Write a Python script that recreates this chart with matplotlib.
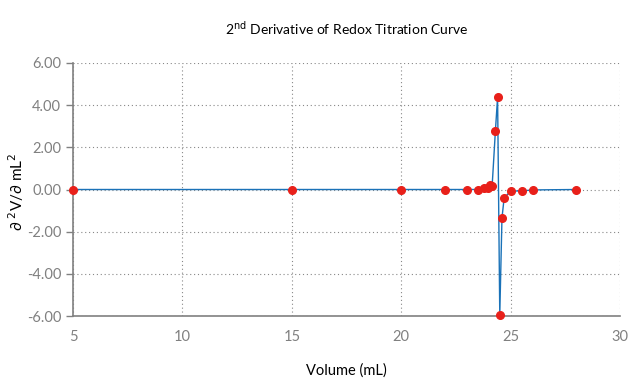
import matplotlib
import matplotlib.pyplot as plt

matplotlib.use('Agg')
plt.rcParams['font.family'] = ['Lato', 'DejaVu Sans']

# volume (mL) and second derivative values
volume = [5, 15, 20, 22, 23, 23.5, 23.8, 23.95, 24.05, 24.15, 24.3, 24.4, 24.5, 24.6, 24.7, 25, 25.5, 26, 28]
d2 = [0, 0, 0, 0, 0, 0, 0.05, 0.06, 0.2, 0.15, 2.78, 4.37, -5.95, -1.35, -0.4, -0.07, -0.07, -0.02, 0]

x_ticks = [5, 10, 15, 20, 25, 30]
y_ticks = [-6, -4, -2, 0, 2, 4, 6]

fig = plt.figure(figsize=(6.4, 3.84), dpi=100)
ax = fig.add_axes([0.114, 0.177, 0.855, 0.659])

ax.plot(volume, d2, color='#1a72b8', linewidth=1.0, zorder=2)
ax.plot(volume, d2, linestyle='none', marker='o', markersize=5.5,
        color='#e8201a', zorder=3, clip_on=False)

ax.set_xlim(5, 30)
ax.set_ylim(-6, 6)
ax.set_xticks(x_ticks)
ax.set_yticks(y_ticks)
ax.set_yticklabels(['%.2f' % v for v in y_ticks])

ax.grid(True, linestyle=(0, (1, 2.5)), color='#888888', linewidth=0.8)
for s in ['top', 'right']:
    ax.spines[s].set_visible(False)
for s in ['left', 'bottom']:
    ax.spines[s].set_color('#808080')
    ax.spines[s].set_linewidth(1.2)

ax.tick_params(axis='y', colors='#808080', labelcolor='#808080', labelsize=10.5, length=5, width=1)
ax.tick_params(axis='x', colors='#808080', labelcolor='#808080', labelsize=10.5, length=0, pad=10)

ax.set_xlabel('Volume (mL)', fontsize=10.5, labelpad=14)
fig.text(16 / 640, 0.5, '∂ $^{2}$V/∂ mL$^{2}$', rotation=90, fontsize=11,
         ha='center', va='center')
ax.set_title(r'2$^{\mathrm{nd}}$ Derivative of Redox Titration Curve', fontsize=10, pad=20)

fig.savefig('out.png', dpi=100)
